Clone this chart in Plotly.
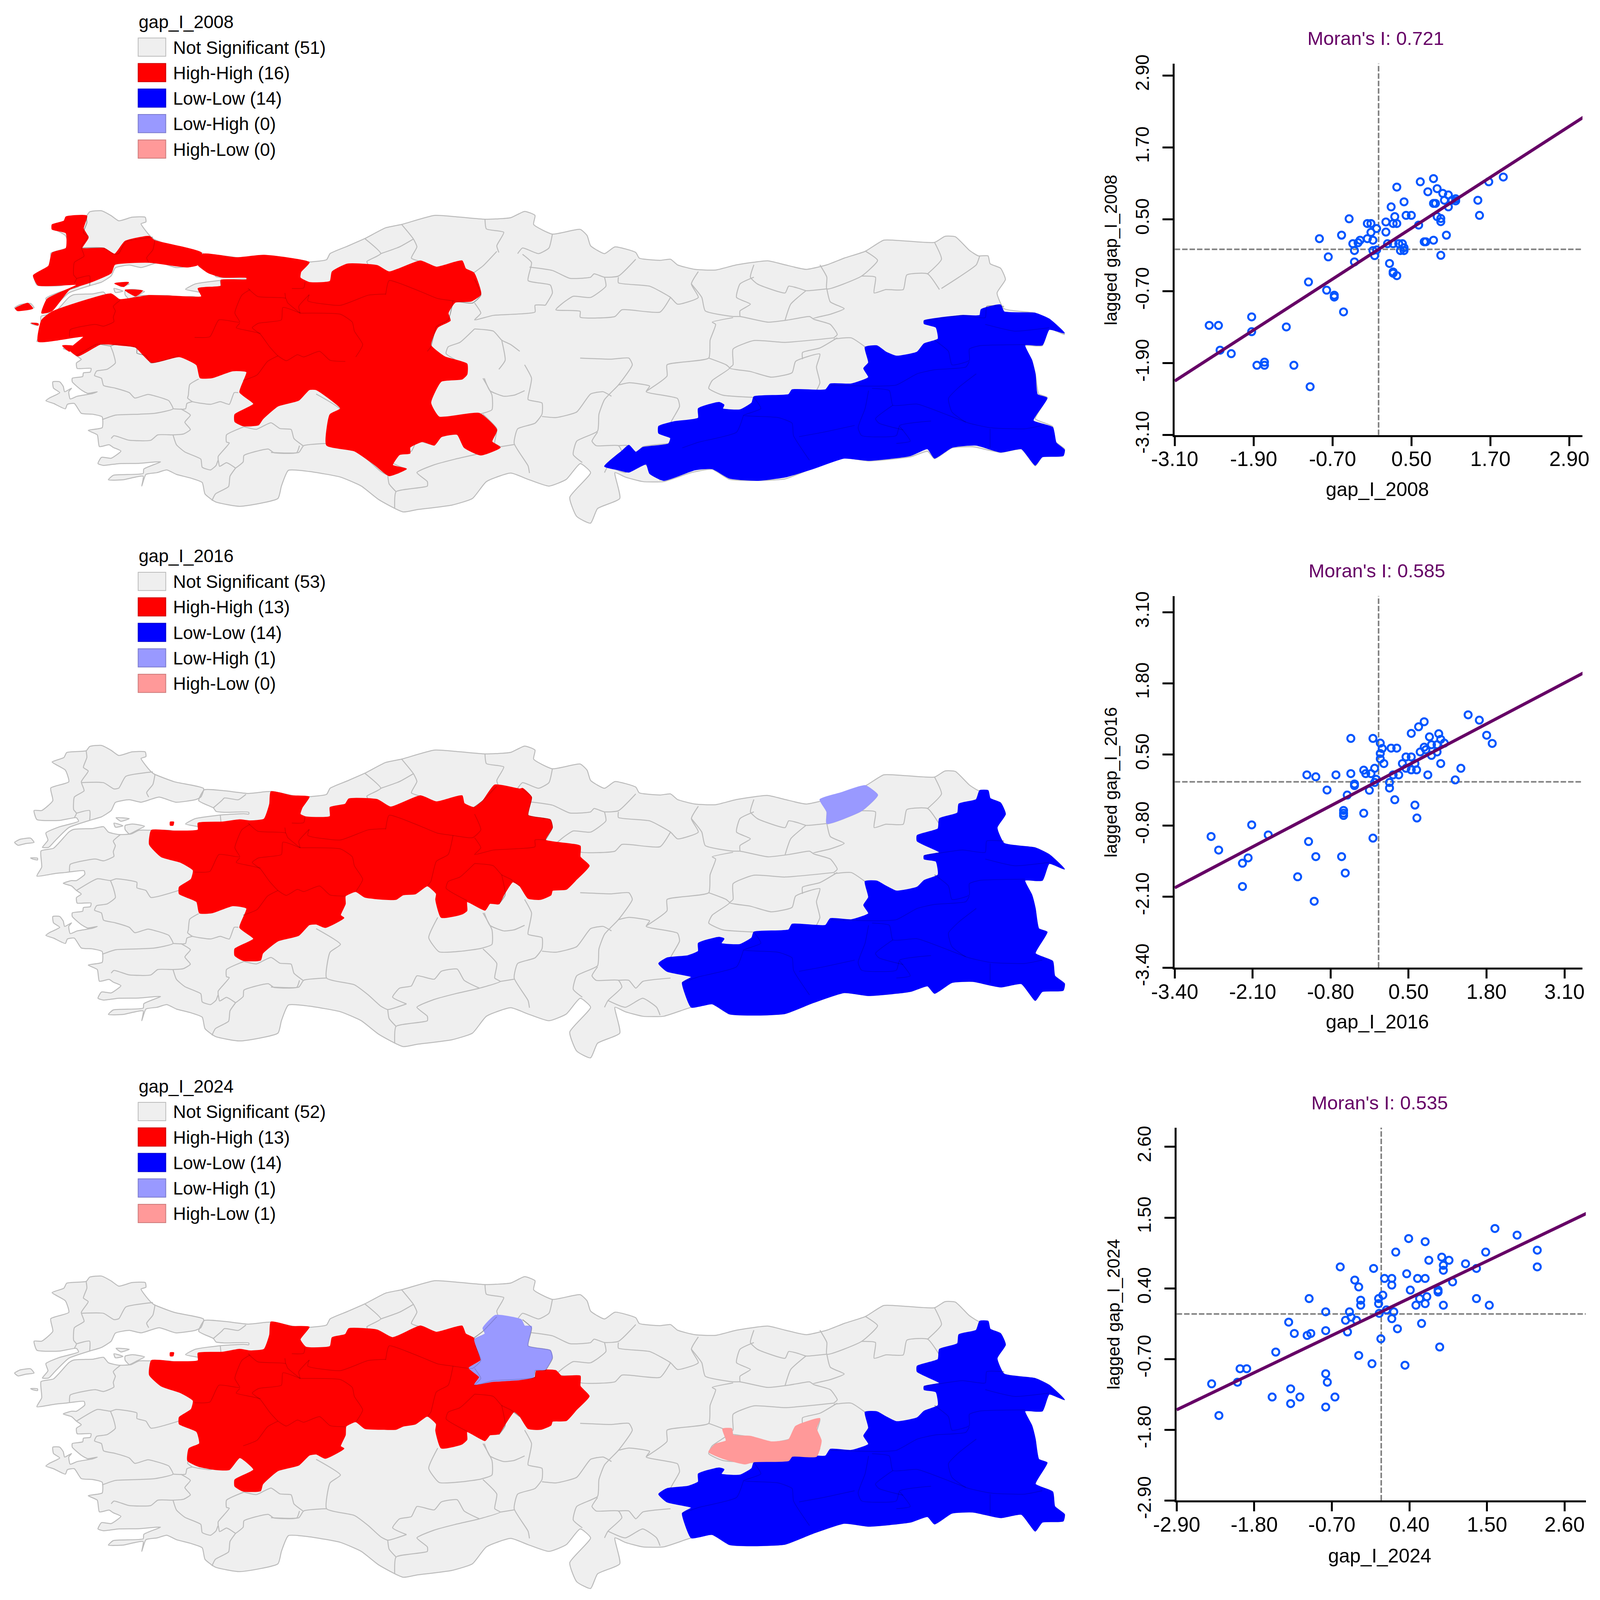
import plotly.graph_objects as go

# positions below are in reference pixels (4112x4543). The figure is left to autosize:
# a fixed 4112x4543 figure got clipped, the page measured 4096x4096 when probed.
W = 4096
H = 4527
PAGE_MARGIN = 8
FONT = "Liberation Sans"
# rotated text and vertical ticks run along the squeezed height of that page
V_SQUEEZE = 0.9

# colours of the five LISA classes
NS_FILL = "#EFEFEF"
NS_LINE = "#BBBBBB"
HH_FILL = "#FF0000"
LL_FILL = "#0000FF"
LH_FILL = "#9999FF"
HL_FILL = "#FF9999"
LEGEND_NAMES = ["Not Significant", "High-High", "Low-Low", "Low-High", "High-Low"]
LEGEND_FILLS = [NS_FILL, HH_FILL, LL_FILL, LH_FILL, HL_FILL]
LEGEND_LINES = ["#BBBBBB", "#CC0000", "#0000CC", "#7A7ACC", "#CC7A7A"]
COUNTS_2008 = [51, 16, 14, 0, 0]
COUNTS_2016 = [53, 13, 14, 1, 0]
COUNTS_2024 = [52, 13, 14, 1, 1]

# Moran scatter values
X_2008 = [-2.575, -2.435, -1.93, -1.93, -2.41, -2.24, -1.85, -1.735, -1.735, -1.403, -1.288, -1.041, -1.066, -.79, -.674, -.674, -.533, -.765, -.90, -.563, -.448, -.392, -.367, -.367, -.282, -.312, -.171, -.116, -.116, -.171, -.086, -.03, -.086, -.03, -.06, .111, .111, .191, .221, .277, .246, .277, .387, .418, .498, .136, .221, .166, .221, .221, .277, .362, .307, .387, .332, .387, .609, .694, .719, .835, .634, .835, .749, .89, .976, 1.061, .835, .865, 1.001, 1.061, .89, .946, .946, 1.031, .946, 1.117, 1.172, 1.172, 1.509, 1.534, 1.675, 1.896]
Y_2008 = [-1.269, -1.27, -1.127, -1.374, -1.683, -1.741, -1.935, -1.883, -1.935, -1.295, -1.935, -2.292, -.545, -.682, -.766, -.797, -1.044, -.126, .178, .236, .509, .094, -.021, -.21, .152, .11, .43, .43, .283, .178, .152, .346, -.021, -.01, -.105, .456, .288, .708, .43, .43, .545, 1.038, .792, .566, .566, .094, .094, -.236, -.378, -.399, -.44, .094, .094, .026, -.021, -.021, .404, .126, .126, .152, 1.127, 1.18, .96, 1.012, .933, .907, .766, .766, .818, .708, .545, .514, .461, .236, -.10, .818, .844, .808, .818, .566, 1.127, 1.206]
X_2016 = [-2.793, -2.667, -2.116, -1.84, -2.27, -2.176, -2.27, -1.35, -1.168, -1.074, -1.047, -.617, -.556, -.584, -.584, -.584, -.248, -.094, -.86, -1.047, -1.196, -.711, -.463, -.463, -.094, .028, .061, .028, .028, .088, -.066, -.248, -.215, -.127, -.402, -.402, -.523, -.154, -.066, -.039, .182, .182, .27, .209, .303, .336, .242, .397, .457, .545, .457, .545, .634, .606, .606, .639, .545, .667, .76, .694, .76, .788, .821, .848, .882, .882, .975, 1.003, 1.036, .975, 1.096, 1.036, 1.278, 1.372, 1.493, 1.68, 1.802, 1.895]
Y_2016 = [-1.001, -1.249, -.788, -.972, -1.49, -1.392, -1.916, -1.738, -1.093, -2.186, -1.369, -1.369, -1.669, -.524, -.575, -.616, -.575, -1.03, -.15, .092, .127, .127, .15, .794, .794, .708, .61, .518, .42, .334, .247, .213, .15, .15, -.04, -.069, -.242, -.155, -.012, .046, -.012, -.115, -.328, .616, .616, .127, .127, .334, .455, .455, .247, .219, .219, .334, -.426, -.662, .886, 1.007, 1.099, .547, .633, .587, .127, .823, .679, .483, .547, .88, .777, .679, .708, .334, .035, .247, 1.226, 1.128, .852, .702]
X_2024 = [-2.404, -2.301, -2.038, -2.001, -1.907, -1.546, -1.495, -1.312, -1.284, -1.284, -1.232, -1.153, -1.05, -.998, -1.022, -.787, -.787, -.787, -.764, -.656, -.787, -.581, -.45, -.506, -.426, -.351, -.478, -.375, -.319, -.291, -.291, -.319, -.131, -.108, -.037, -.037, -.028, -.005, .023, .047, .075, .15, .15, .178, .15, .206, .23, .337, .361, .389, .412, .492, .515, .544, .572, .623, .623, .623, .647, .675, .806, .806, .829, .858, .881, .881, .881, .961, 1.012, 1.195, 1.35, 1.35, 1.481, 1.532, 1.612, 1.926, 2.212, 2.212]
Y_2024 = [-1.086, -1.579, -1.061, -.851, -.851, -1.291, -.592, -.127, -1.164, -1.394, -.303, -1.291, -.333, -.303, .24, .034, -.259, -.929, -1.061, -1.291, -1.447, .733, .034, -.098, -.049, -.098, -.279, .528, .421, .215, .137, -.645, -.773, .709, .24, .161, .01, -.386, .293, .553, .064, .553, .45, .034, -.073, .963, -.23, -.797, .626, 1.174, .372, .137, .553, .24, -.147, .553, 1.125, .161, .269, .836, .372, .342, -.513, .885, .758, .68, .137, .836, .499, .782, .24, .709, .963, .137, 1.33, 1.227, .993, .733]

# fitted lines, end to end
LINE_X_2008 = [-3.10, 3.134]
LINE_Y_2008 = [-2.197, 2.218]
LINE_X_2016 = [-3.40, 3.43]
LINE_Y_2016 = [-1.94, 2.00]
LINE_X_2024 = [-2.90, 2.929]
LINE_Y_2024 = [-1.491, 1.575]

TICKS_2008 = [-3.10, -1.90, -0.70, 0.50, 1.70, 2.90]
TICKS_2016 = [-3.40, -2.10, -0.80, 0.50, 1.80, 3.10]
TICKS_2024 = [-2.90, -1.80, -0.70, 0.40, 1.50, 2.60]
MORAN = ["Moran's I: 0.721", "Moran's I: 0.585", "Moran's I: 0.535"]
VAR_NAMES = ["gap_I_2008", "gap_I_2016", "gap_I_2024"]


def nw(points):
    return [(round(x * 0.2857), round(78.4 + y * 0.8)) for x, y in points]


def from_crop(points, top):
    # 2008 and 2024 outlines were traced on their own crops
    ratio = {145: 1.05, 115: 0.992}[top]
    return [(x, round(103 + (y - top) * ratio)) for x, y in points]


# map outlines in map units (x to the right, y down)
THRACE = nw([(262, 125), (322, 100), (335, 72), (435, 62), (450, 38), (510, 32), (560, 60), (598, 88), (665, 68), (730, 68), (735, 95), (712, 105), (745, 160), (775, 190), (880, 235), (1025, 272), (1010, 320), (985, 335), (885, 348), (800, 320), (710, 348), (650, 335), (580, 350), (560, 395), (510, 430), (450, 450), (345, 490), (280, 560), (245, 600), (215, 600), (240, 560), (232, 520), (300, 485), (395, 455), (385, 435), (300, 450), (185, 445), (170, 395), (210, 395), (265, 340), (255, 270), (345, 235), (330, 170)])
COAST_NORTH_WEST = nw([(1030, 280), (1130, 285), (1250, 300), (1340, 290), (1370, 288), (1490, 315), (1545, 318)])
COAST_NORTH = [(470, 322), (475, 295), (500, 262), (525, 228), (555, 180), (578, 165), (625, 125), (660, 132), (698, 142), (735, 135), (755, 107), (770, 125), (768, 165), (795, 208), (835, 187), (845, 215), (850, 260), (870, 295), (885, 265), (915, 290), (920, 315), (950, 325), (965, 320), (975, 345), (1000, 365), (1030, 368), (1060, 345), (1105, 327), (1130, 345), (1160, 365), (1190, 345), (1215, 315), (1245, 285), (1272, 235), (1300, 238), (1345, 245), (1360, 218), (1375, 220), (1395, 280), (1408, 305)]
COAST_EAST_SOUTH = [(1422, 305), (1425, 340), (1440, 360), (1447, 410), (1435, 470), (1445, 540), (1490, 560), (1510, 590), (1532, 655), (1510, 630), (1500, 705), (1475, 705), (1485, 770), (1490, 830), (1495, 920), (1507, 935), (1490, 1030), (1515, 1065), (1518, 1130), (1532, 1165), (1530, 1195), (1500, 1200), (1490, 1240), (1482, 1210), (1470, 1165), (1440, 1180), (1400, 1155), (1370, 1160), (1345, 1208), (1335, 1175), (1310, 1200), (1250, 1218), (1215, 1205), (1170, 1250), (1130, 1298), (1090, 1305), (1050, 1300), (1025, 1255), (995, 1270), (955, 1310), (925, 1310), (900, 1290), (885, 1270), (892, 1385), (860, 1430), (850, 1495), (830, 1465), (820, 1380), (850, 1270), (835, 1230), (815, 1300), (790, 1330), (760, 1300), (735, 1272), (700, 1310), (680, 1385), (650, 1415), (600, 1435), (580, 1445), (545, 1390), (520, 1330), (490, 1290), (445, 1265), (415, 1260), (405, 1330), (400, 1385), (345, 1420), (310, 1400), (295, 1365)]
COAST_WEST = nw([(1020, 1545), (960, 1520), (890, 1500), (840, 1475), (790, 1490), (735, 1500), (715, 1565), (720, 1510), (620, 1530), (545, 1530), (570, 1505), (720, 1495), (725, 1470), (810, 1430), (700, 1438), (600, 1440), (520, 1450), (495, 1440), (510, 1405), (560, 1410), (610, 1370), (570, 1350), (550, 1335), (500, 1345), (490, 1280), (445, 1255), (515, 1240), (515, 1180), (465, 1165), (410, 1160), (375, 1105), (340, 1110), (330, 1135), (270, 1105), (230, 1090), (250, 1075), (300, 1045), (270, 1020), (265, 985), (300, 985), (320, 1010), (325, 1040), (360, 1020), (345, 1040), (355, 1080), (390, 1065), (465, 1050), (490, 1040), (440, 1048), (410, 1030), (365, 985), (365, 965), (415, 955), (420, 935), (455, 930), (460, 910), (390, 910), (385, 880), (410, 860), (385, 840), (360, 815), (320, 800), (360, 785), (385, 785), (428, 750), (425, 730), (330, 740), (280, 745), (185, 760), (210, 710), (207, 620), (270, 605), (345, 515), (370, 500), (470, 495), (520, 485), (545, 515), (600, 528), (660, 525), (700, 505), (770, 505), (850, 505), (900, 513), (970, 510), (1010, 515), (1030, 490), (1000, 485), (935, 470), (985, 440), (1110, 420), (1230, 412), (1252, 415), (1252, 405), (1130, 405), (1090, 400), (1075, 380), (1000, 340)])
GOKCEADA = nw([(75, 572), (100, 555), (155, 548), (170, 572), (130, 578), (90, 588)])
BOZCAADA = nw([(155, 658), (188, 660), (188, 670), (165, 665)])
MARMARA_ISLAND = nw([(585, 435), (650, 440), (610, 455)])
AVSA = nw([(575, 465), (620, 480), (580, 487)])
KAPIDAG = nw([(630, 478), (670, 470), (728, 482), (690, 505), (650, 525), (630, 500)])

# province borders, gray on the land
LINES_THRACE = [
    [(124, 128), (125, 158), (120, 202), (127, 218), (117, 266), (121, 306), (107, 334), (106, 390), (110, 406), (107, 426)],
    [(110, 406), (129, 394), (129, 438)],
    [(117, 270), (149, 270), (164, 298), (171, 294), (181, 242), (220, 222)],
    [(223, 234), (220, 278), (211, 314), (214, 334)],
    [(307, 382), (319, 350), (323, 338), (343, 346), (354, 322)],
    [(317, 414), (318, 446)],
]
LINES_MARMARA = [
    [(173, 502), (163, 530), (166, 550), (163, 578), (164, 598), (149, 618), (137, 610), (101, 634), (100, 666)],
    [(110, 750), (140, 698), (159, 706), (167, 698), (197, 714), (197, 738), (210, 750), (217, 781), (257, 750)],
]
LINES_CENTRAL_WEST = [
    [(360, 455), (348, 480), (338, 560), (345, 600), (315, 590), (302, 665), (280, 668)],
    [(345, 605), (340, 625), (360, 640), (375, 650)],
    [(357, 450), (371, 486), (411, 494), (414, 514), (432, 560)],
    [(445, 478), (443, 505), (490, 525), (530, 480), (555, 475)],
    [(445, 478), (430, 530), (432, 560)],
    [(432, 560), (490, 565), (507, 600), (510, 640), (522, 700), (512, 755)],
    [(432, 560), (407, 535), (405, 590), (372, 605), (363, 625), (375, 655), (388, 710), (400, 750), (412, 772), (428, 745), (437, 755), (460, 730), (475, 770), (497, 775)],
    [(400, 750), (385, 775), (370, 835), (350, 860)],
    [(555, 478), (560, 415), (590, 445), (610, 470), (630, 495), (652, 505), (680, 515), (692, 480), (683, 410)],
    [(652, 505), (645, 590), (628, 620), (620, 710), (615, 730)],
    [(410, 470), (411, 494)],
    [(420, 450), (437, 448), (439, 422)],
]
LINES_CENTRAL_EAST = [
    [(683, 515), (692, 560), (683, 590), (710, 570), (770, 555), (770, 525), (785, 525)],
    [(683, 630), (662, 690), (645, 710), (642, 740), (672, 795)],
    [(683, 630), (710, 640), (722, 680), (735, 700), (748, 730)],
    [(722, 680), (727, 770), (718, 810)],
    [(715, 285), (695, 350), (682, 380)],
    [(752, 298), (765, 335), (760, 415), (792, 435), (795, 470), (785, 525)],
]
LINES_SOUTHEAST = [
    [(1330, 595), (1385, 570), (1418, 580), (1420, 530), (1445, 530)],
    [(1418, 610), (1460, 640), (1510, 625)],
    [(1345, 680), (1365, 730), (1370, 790), (1395, 770), (1395, 720), (1410, 705), (1475, 700)],
    [(1395, 775), (1390, 800), (1345, 812), (1320, 830), (1290, 880), (1260, 885), (1195, 880)],
    [(1405, 830), (1380, 890), (1365, 940), (1370, 1000), (1390, 1045), (1425, 1070), (1475, 1075), (1500, 1060)],
    [(1425, 1075), (1425, 1160)],
    [(1255, 895), (1280, 905), (1285, 970), (1320, 965), (1365, 1015), (1390, 1045)],
    [(1250, 905), (1245, 985), (1235, 1070), (1240, 1105), (1290, 1105), (1295, 1060), (1340, 1040)],
    [(1295, 1065), (1310, 1130), (1290, 1140)],
    [(1150, 1110), (1185, 1090), (1230, 1060)],
    [(1085, 935), (1095, 985), (1070, 1015), (1120, 1025), (1140, 1050), (1142, 1105), (1165, 1215)],
    [(1070, 1015), (1060, 1090), (1005, 1135), (982, 1160)],
    [(1285, 970), (1260, 1030), (1265, 1050), (1300, 1080)],
]
LINES_REST = [
    [(698, 142), (700, 185), (725, 200), (715, 260), (718, 290)],
    [(795, 208), (790, 270), (775, 295), (752, 270), (745, 295)],
    [(578, 165), (595, 230), (600, 265), (592, 315), (605, 330)],
    [(525, 228), (548, 295), (528, 330), (530, 345)],
    [(548, 295), (575, 265), (595, 230)],
    [(762, 355), (795, 370), (820, 405), (850, 400), (855, 385), (870, 400), (890, 395), (915, 320)],
    [(890, 400), (890, 425), (935, 440), (965, 490), (975, 520), (1005, 490), (995, 430), (1005, 375)],
    [(870, 400), (872, 440), (850, 490), (825, 485), (810, 515), (800, 545), (835, 552), (835, 578), (885, 575), (895, 545), (950, 555), (965, 490)],
    [(1085, 345), (1080, 400), (1090, 430), (1130, 470), (1135, 440), (1150, 450), (1160, 460), (1190, 452)],
    [(1085, 400), (1065, 430), (1060, 490), (1080, 520), (1065, 550), (1065, 575)],
    [(995, 430), (1010, 490), (1015, 550), (1055, 575), (1065, 575), (1105, 600), (1135, 590), (1165, 575), (1170, 585)],
    [(1160, 460), (1138, 520), (1130, 590)],
    [(1190, 452), (1195, 510), (1215, 540), (1195, 565), (1170, 585), (1195, 610), (1205, 655), (1200, 670)],
    [(1180, 345), (1190, 400), (1190, 452), (1240, 395), (1263, 325), (1245, 283)],
    [(1240, 395), (1260, 400), (1258, 470), (1275, 455), (1300, 455), (1305, 390), (1335, 385), (1352, 455)],
    [(1345, 245), (1355, 320), (1335, 385)],
    [(1410, 305), (1405, 345), (1380, 400), (1355, 450)],
    [(1055, 580), (1025, 600), (1030, 610), (1022, 680), (1020, 760), (960, 790), (960, 840), (930, 908)],
    [(1200, 670), (1130, 690), (1085, 682), (1055, 720), (1055, 790), (1050, 805), (1080, 820), (1110, 845), (1140, 825), (1145, 775), (1180, 742), (1175, 800), (1180, 870), (1175, 905)],
    [(1200, 675), (1225, 670), (1245, 710)],
    [(1205, 670), (1180, 715), (1155, 735), (1155, 765)],
    [(1020, 760), (1045, 790), (1050, 805), (1025, 860), (1020, 895), (1040, 925), (1085, 935)],
    [(835, 760), (880, 765), (905, 760), (910, 790), (890, 880), (870, 945), (862, 1010), (860, 1085), (830, 1130), (825, 1190), (838, 1225)],
    [(890, 880), (905, 870), (935, 885), (930, 910), (975, 940), (978, 975), (965, 1050), (965, 1100)],
    [(860, 1090), (852, 1130), (858, 1150), (890, 1150), (895, 1180), (875, 1240), (870, 1270)],
    [(890, 1150), (905, 1150), (915, 1185), (925, 1155), (965, 1140)],
    [(875, 1240), (900, 1270), (925, 1230), (945, 1270), (950, 1305)],
    [(755, 790), (765, 850), (762, 905), (760, 945), (780, 960), (780, 1010), (770, 1050), (745, 1075), (740, 1140), (760, 1240), (762, 1272)],
    [(780, 1020), (800, 1025), (830, 1000), (850, 920), (868, 910), (880, 930)],
    [(697, 850), (705, 905), (725, 930), (740, 925), (755, 905)],
    [(630, 870), (617, 960), (632, 1023), (665, 1020), (692, 1008), (708, 990), (708, 925), (695, 850)],
    [(695, 1010), (715, 1075), (712, 1140), (720, 1155), (690, 1185), (655, 1210), (625, 1235), (600, 1270), (615, 1310), (615, 1330), (570, 1355), (568, 1430)],
    [(720, 1155), (740, 1145)],
    [(585, 1255), (565, 1225), (575, 1185), (592, 1175), (600, 1130), (625, 1145), (635, 1110), (658, 1100), (668, 1150), (690, 1185)],
    [(455, 920), (490, 990), (475, 1025), (470, 1140), (510, 1170), (530, 1215), (548, 1265), (558, 1280), (585, 1255)],
    [(558, 1280), (560, 1320), (570, 1355)],
    [(390, 1180), (430, 1180), (437, 1150), (470, 1140)],
    [(351, 1066), (326, 1102), (326, 1134), (330, 1138), (314, 1198), (314, 1214)],
    [(351, 1066), (369, 1077), (390, 1048), (403, 1074), (419, 1078), (423, 1118), (436, 1150)],
    [(339, 1250), (350, 1222), (351, 1194), (386, 1165), (394, 1181), (427, 1181), (431, 1150)],
    [(339, 1250), (331, 1286), (329, 1332), (310, 1365), (305, 1395)],
    [(249, 1102), (254, 1146), (266, 1178), (289, 1210), (291, 1246), (303, 1258), (311, 1238), (314, 1214), (316, 1242), (326, 1226), (339, 1250)],
    [(286, 853), (273, 878), (271, 926), (270, 938), (277, 954), (303, 966), (317, 954), (330, 966), (337, 914), (343, 914)],
    [(277, 954), (269, 962), (267, 986), (249, 986)],
    [(260, 986), (274, 1014), (266, 1046), (274, 1078), (264, 1098), (249, 1102), (227, 1102), (217, 1126), (186, 1126), (164, 1106), (160, 1118)],
    [(159, 706), (163, 738), (166, 782), (154, 810), (139, 818), (136, 838), (146, 850), (149, 882), (166, 894), (186, 914), (194, 938), (213, 922), (237, 942), (243, 950), (249, 986), (223, 1006), (200, 1010), (166, 1014), (147, 1034)],
]

# cluster shapes of each year
RED_2008_THRACE = from_crop([(95, 172), (125, 168), (120, 220), (127, 260), (118, 305), (150, 305), (165, 330), (180, 275), (215, 255), (222, 272), (290, 325), (285, 375), (270, 385), (215, 365), (165, 375), (160, 410), (130, 450), (100, 480), (75, 570), (60, 580), (68, 520), (110, 460), (55, 462), (48, 420), (70, 380), (75, 325), (95, 305), (95, 240), (75, 225), (75, 205), (92, 190)], 145)
RED_2008_ANATOLIA = from_crop([(292, 330), (340, 345), (380, 335), (445, 365), (433, 405), (432, 430), (445, 450), (475, 445), (478, 405), (500, 372), (543, 378), (560, 405), (605, 358), (628, 385), (665, 358), (670, 392), (682, 410), (692, 500), (678, 530), (655, 535), (645, 580), (648, 612), (630, 640), (620, 715), (640, 765), (672, 795), (672, 840), (665, 860), (635, 870), (620, 960), (632, 1020), (690, 1005), (715, 1075), (708, 1125), (720, 1150), (692, 1182), (668, 1150), (658, 1095), (635, 1105), (625, 1140), (608, 1125), (590, 1150), (590, 1175), (575, 1180), (565, 1225), (585, 1240), (560, 1270), (540, 1225), (510, 1165), (470, 1140), (475, 1010), (490, 985), (455, 905), (445, 905), (430, 950), (400, 975), (378, 1030), (372, 1055), (350, 1058), (338, 1040), (338, 1010), (365, 965), (345, 915), (355, 830), (335, 825), (305, 855), (288, 855), (283, 800), (258, 765), (218, 790), (195, 725), (170, 715), (145, 712), (112, 762), (100, 735), (120, 680), (55, 700), (60, 610), (75, 575), (160, 498), (172, 522), (215, 505), (250, 508), (290, 510), (285, 475), (318, 465), (318, 440), (355, 438), (355, 430), (320, 428), (300, 410), (285, 375)], 145)
RED_2008_ISLES = [from_crop(p, 145) for p in [[(22, 560), (40, 538), (47, 560), (25, 570)], [(45, 622), (55, 625), (55, 632)], [(165, 455), (185, 450), (178, 468)], [(180, 482), (205, 485), (195, 508)], [(90, 718), (105, 720), (100, 742)]]]
RED_2016 = [(390, 310), (420, 328), (445, 333), (435, 380), (432, 410), (440, 422), (475, 420), (475, 380), (497, 365), (502, 342), (543, 345), (562, 378), (605, 328), (628, 355), (665, 328), (668, 362), (682, 380), (695, 350), (712, 280), (748, 298), (752, 295), (765, 335), (760, 415), (792, 435), (795, 470), (785, 525), (835, 552), (835, 600), (848, 640), (830, 700), (815, 745), (795, 750), (793, 770), (778, 790), (760, 785), (748, 730), (738, 712), (725, 770), (718, 810), (705, 808), (698, 838), (672, 800), (672, 840), (665, 855), (635, 870), (627, 790), (628, 765), (615, 730), (598, 765), (580, 770), (570, 790), (553, 790), (525, 780), (512, 755), (497, 775), (497, 810), (490, 860), (495, 872), (468, 915), (455, 900), (445, 903), (430, 950), (400, 975), (378, 1030), (375, 1060), (350, 1062), (338, 1040), (338, 1010), (365, 965), (345, 915), (355, 830), (335, 818), (305, 850), (287, 850), (283, 800), (258, 765), (258, 735), (275, 700), (278, 660), (260, 625), (232, 600), (215, 545), (218, 482), (250, 485), (285, 480), (285, 450), (320, 445), (345, 435), (360, 440), (380, 432), (388, 365)]
RED_ISLET = [(245, 445), (250, 445), (249, 460), (245, 460)]
RED_2024 = from_crop([(390, 322), (420, 342), (445, 345), (432, 400), (440, 435), (475, 432), (478, 392), (497, 378), (502, 352), (543, 358), (565, 392), (605, 340), (628, 368), (665, 340), (670, 375), (682, 395), (692, 490), (678, 520), (690, 570), (683, 603), (708, 590), (745, 583), (770, 570), (772, 540), (800, 540), (808, 565), (835, 565), (835, 610), (848, 655), (830, 715), (815, 765), (795, 768), (793, 785), (778, 805), (760, 800), (748, 745), (740, 725), (725, 790), (718, 825), (705, 830), (698, 855), (672, 815), (672, 850), (665, 870), (635, 888), (627, 810), (628, 780), (615, 745), (598, 780), (580, 790), (570, 805), (553, 805), (525, 800), (512, 770), (498, 790), (497, 830), (490, 880), (495, 890), (468, 935), (455, 915), (445, 920), (430, 965), (400, 990), (378, 1050), (375, 1080), (350, 1082), (338, 1060), (338, 1030), (365, 985), (345, 932), (330, 985), (310, 985), (285, 970), (270, 945), (272, 890), (287, 868), (283, 815), (258, 780), (258, 750), (275, 715), (278, 675), (260, 640), (232, 610), (215, 560), (218, 495), (250, 500), (285, 495), (285, 462), (320, 458), (345, 445), (360, 452), (380, 445), (388, 380)], 115)
BLUE_2008 = from_crop([(1412, 565), (1440, 545), (1445, 575), (1490, 580), (1510, 605), (1532, 665), (1510, 650), (1500, 715), (1475, 715), (1485, 780), (1490, 840), (1493, 925), (1507, 940), (1487, 1035), (1515, 1065), (1520, 1130), (1532, 1160), (1530, 1185), (1500, 1190), (1490, 1225), (1480, 1190), (1470, 1155), (1440, 1170), (1405, 1140), (1370, 1150), (1345, 1195), (1335, 1155), (1310, 1185), (1250, 1205), (1215, 1195), (1170, 1240), (1130, 1275), (1090, 1290), (1050, 1280), (1025, 1240), (1000, 1245), (955, 1290), (935, 1260), (930, 1220), (905, 1255), (890, 1245), (870, 1230), (895, 1165), (905, 1140), (915, 1170), (925, 1150), (962, 1135), (965, 1110), (948, 1090), (948, 1060), (970, 1040), (1005, 1025), (1005, 985), (1035, 958), (1042, 970), (1040, 985), (1065, 990), (1082, 960), (1085, 935), (1135, 925), (1140, 905), (1188, 905), (1195, 880), (1225, 880), (1250, 852), (1243, 815), (1250, 790), (1245, 725), (1262, 718), (1275, 745), (1290, 762), (1320, 745), (1330, 710), (1350, 690), (1347, 640), (1330, 625), (1330, 612), (1352, 600), (1385, 590), (1410, 590)], 145)
BLUE_2016 = [(1422, 305), (1425, 340), (1440, 360), (1447, 410), (1435, 470), (1445, 540), (1490, 560), (1510, 590), (1532, 655), (1510, 630), (1500, 705), (1475, 705), (1485, 770), (1490, 830), (1495, 920), (1507, 935), (1490, 1030), (1515, 1065), (1518, 1130), (1532, 1165), (1530, 1195), (1500, 1200), (1490, 1240), (1482, 1210), (1470, 1165), (1440, 1180), (1400, 1155), (1370, 1160), (1345, 1208), (1335, 1175), (1310, 1200), (1250, 1218), (1215, 1205), (1170, 1250), (1130, 1298), (1090, 1305), (1050, 1300), (1025, 1255), (995, 1270), (985, 1200), (982, 1160), (995, 1135), (960, 1110), (948, 1075), (960, 1050), (990, 1040), (1005, 1020), (1005, 985), (1035, 958), (1042, 965), (1038, 985), (1065, 990), (1082, 960), (1085, 935), (1135, 925), (1140, 900), (1188, 905), (1195, 875), (1225, 880), (1250, 852), (1243, 815), (1250, 780), (1245, 710), (1262, 708), (1275, 730), (1290, 752), (1320, 735), (1330, 705), (1350, 680), (1347, 620), (1330, 610), (1330, 595), (1352, 580), (1320, 530), (1320, 505), (1350, 475), (1352, 430), (1378, 405), (1380, 365), (1405, 345), (1410, 305)]
LILAC_2016 = [(1245, 283), (1263, 325), (1240, 395), (1190, 452), (1190, 400), (1180, 345), (1210, 315)]
LILAC_2024 = from_crop([(713, 292), (750, 312), (755, 340), (765, 342), (760, 430), (792, 450), (795, 480), (785, 535), (770, 540), (768, 570), (745, 583), (708, 590), (683, 603), (690, 570), (675, 528), (692, 495), (683, 400), (698, 375), (695, 350)], 115)
PINK_2024 = from_crop([(1040, 802), (1053, 800), (1055, 830), (1080, 835), (1110, 860), (1135, 850), (1145, 790), (1180, 755), (1175, 800), (1182, 855), (1175, 925), (1140, 925), (1135, 945), (1085, 950), (1072, 960), (1040, 935), (1020, 905), (1030, 870), (1045, 855)], 115)

ASIA = COAST_NORTH_WEST + COAST_NORTH + COAST_EAST_SOUTH + COAST_WEST
LAND = [THRACE, ASIA, GOKCEADA, BOZCAADA, MARMARA_ISLAND, AVSA, KAPIDAG]
GRAY_LINES = LINES_THRACE + LINES_MARMARA + LINES_CENTRAL_WEST + LINES_CENTRAL_EAST + LINES_SOUTHEAST + LINES_REST

# which shapes fill which class in each year
CLUSTERS_2008 = [(HH_FILL, [RED_2008_THRACE, RED_2008_ANATOLIA] + RED_2008_ISLES), (LL_FILL, [BLUE_2008])]
CLUSTERS_2016 = [(HH_FILL, [RED_2016, RED_ISLET]), (LL_FILL, [BLUE_2016]), (LH_FILL, [LILAC_2016])]
CLUSTERS_2024 = [(HH_FILL, [RED_2024, RED_ISLET]), (LL_FILL, [BLUE_2016]), (LH_FILL, [LILAC_2024]), (HL_FILL, [PINK_2024])]
INNER_2008 = LINES_THRACE[:4] + LINES_MARMARA + LINES_CENTRAL_WEST + LINES_SOUTHEAST
INNER_2016 = LINES_CENTRAL_WEST + LINES_CENTRAL_EAST + LINES_SOUTHEAST


def xy(shapes):
    xs, ys = [], []
    for shape in shapes:
        for x, y in shape:
            xs.append(x)
            ys.append(y)
        xs.append(None)
        ys.append(None)
    return xs, ys


def closed(shapes):
    return [list(s) + [s[0]] for s in shapes]


def paper_x(px):
    return (px - PAGE_MARGIN) / W


def paper_y(px):
    return 1 - (px - PAGE_MARGIN) / H


def dom_x(a, b):
    return [paper_x(a), paper_x(b)]


def dom_y(top, bottom):
    return [paper_y(bottom), paper_y(top)]


def border(colour, width):
    # real borders wander, a light spline reads closer than straight segments
    return dict(color=colour, width=width, shape="spline", smoothing=0.5)


fig = go.Figure()
map_tops = [531.3, 2050, 3557.3]
map_clusters = [CLUSTERS_2008, CLUSTERS_2016, CLUSTERS_2024]
map_inner = [INNER_2008, INNER_2016, INNER_2016]
layout = {}

for i in range(3):
    ax = "x%d" % (i + 1)
    ay = "y%d" % (i + 1)
    xs, ys = xy(closed(LAND))
    fig.add_trace(go.Scatter(x=xs, y=ys, xaxis=ax, yaxis=ay, mode="lines", fill="toself", fillcolor=NS_FILL,
                             line=border(NS_LINE, 2.5), hoverinfo="skip", showlegend=False))
    xs, ys = xy(GRAY_LINES)
    fig.add_trace(go.Scatter(x=xs, y=ys, xaxis=ax, yaxis=ay, mode="lines",
                             line=border(NS_LINE, 2.5), hoverinfo="skip", showlegend=False))
    for colour, shapes in map_clusters[i]:
        xs, ys = xy(closed(shapes))
        fig.add_trace(go.Scatter(x=xs, y=ys, xaxis=ax, yaxis=ay, mode="lines", fill="toself", fillcolor=colour,
                                 line=border(colour, 2), hoverinfo="skip", showlegend=False))
    xs, ys = xy(map_inner[i])
    fig.add_trace(go.Scatter(x=xs, y=ys, xaxis=ax, yaxis=ay, mode="lines",
                             line=border("rgba(0,0,0,0.16)", 2), hoverinfo="skip", showlegend=False))
    layout["xaxis" + str(i + 1)] = dict(domain=dom_x(8, 2800), range=[8 / 1.786, 1568], visible=False, anchor=ay, automargin=False)
    layout["yaxis" + str(i + 1)] = dict(domain=dom_y(map_tops[i], map_tops[i] + 1510 * 0.638), range=[1510, 0], visible=False, anchor=ax, automargin=False)

# Moran scatter panels
scatter_x = [X_2008, X_2016, X_2024]
scatter_y = [Y_2008, Y_2016, Y_2024]
line_x = [LINE_X_2008, LINE_X_2016, LINE_X_2024]
line_y = [LINE_Y_2008, LINE_Y_2016, LINE_Y_2024]
ticks = [TICKS_2008, TICKS_2016, TICKS_2024]
limits = [3.1, 3.4, 2.9]
plot_boxes = [(3019, 4067, 179.5, 1235), (3019, 4067, 1692, 2747.6), (3024, 4075.5, 3202, 4261)]
title_pos = [(3536, 108), (3539, 1620), (3546, 3131)]
xlabel_pos = [(3540, 1389), (3540, 2902), (3546, 4418)]
ylabel_pos = [(2855, 709), (2855, 2221), (2861, 3732)]
annotations = []

for i in range(3):
    n = i + 4
    ax = "x%d" % n
    ay = "y%d" % n
    lim = limits[i]
    dash = dict(color="#808080", width=4, dash="14px,5px")
    fig.add_trace(go.Scatter(x=[-lim, lim], y=[0, 0], xaxis=ax, yaxis=ay, mode="lines", line=dash, showlegend=False))
    fig.add_trace(go.Scatter(x=[0, 0], y=[-lim, lim], xaxis=ax, yaxis=ay, mode="lines", line=dash, showlegend=False))
    fig.add_trace(go.Scatter(x=scatter_x[i], y=scatter_y[i], xaxis=ax, yaxis=ay, mode="markers",
                             marker=dict(symbol="circle-open", size=18, color="#0055FF", line=dict(color="#0055FF", width=5)),
                             showlegend=False))
    fig.add_trace(go.Scatter(x=line_x[i], y=line_y[i], xaxis=ax, yaxis=ay, mode="lines", cliponaxis=False,
                             line=dict(color="#660066", width=8), showlegend=False))
    x0, x1, top, bottom = plot_boxes[i]
    labels = ["%.2f" % t for t in ticks[i]]
    common = dict(range=[-lim, lim], tickvals=ticks[i], ticktext=labels, showgrid=False, zeroline=False, showline=True,
                  linecolor="black", linewidth=5, ticks="outside", tickwidth=5, tickcolor="black", automargin=False)
    layout["xaxis%d" % n] = dict(domain=dom_x(x0, x1), anchor=ay, tickangle=0, ticklen=round(26 * V_SQUEEZE), ticklabelstandoff=-12,
                                 tickfont=dict(family=FONT, size=53, color="black"), **common)
    layout["yaxis%d" % n] = dict(domain=dom_y(top, bottom), anchor=ax, tickangle=-90, ticklen=26, ticklabelstandoff=16,
                                 tickfont=dict(family=FONT, size=round(53 * V_SQUEEZE), color="black"), **common)
    annotations.append(dict(text=MORAN[i], x=paper_x(title_pos[i][0]), y=paper_y(title_pos[i][1]), xref="paper", yref="paper",
                            showarrow=False, xanchor="center", yanchor="middle", font=dict(family=FONT, size=49, color="#660066")))
    annotations.append(dict(text=VAR_NAMES[i], x=paper_x(xlabel_pos[i][0]), y=paper_y(xlabel_pos[i][1]), xref="paper", yref="paper",
                            showarrow=False, xanchor="center", yanchor="middle", font=dict(family=FONT, size=50, color="black")))
    annotations.append(dict(text="lagged " + VAR_NAMES[i], x=paper_x(ylabel_pos[i][0]), y=paper_y(ylabel_pos[i][1]), xref="paper", yref="paper",
                            showarrow=False, xanchor="center", yanchor="middle", textangle=-90,
                            font=dict(family=FONT, size=round(50 * V_SQUEEZE), color="black")))

# legends, drawn at the map's top left
legend_counts = [COUNTS_2008, COUNTS_2016, COUNTS_2024]
legend_shift = [0, 1517.5, 3023.4]
shapes = []
for i in range(3):
    dy = legend_shift[i]
    annotations.append(dict(text=VAR_NAMES[i], x=paper_x(354), y=paper_y(61 + dy), xref="paper", yref="paper", showarrow=False,
                            xanchor="left", yanchor="middle", font=dict(family=FONT, size=46, color="black")))
    for j in range(5):
        mid = 133 + 72.4 * j + dy
        shapes.append(dict(type="rect", xref="paper", yref="paper", x0=paper_x(355), x1=paper_x(426), y0=paper_y(mid - 26), y1=paper_y(mid + 26),
                           fillcolor=LEGEND_FILLS[j], line=dict(color=LEGEND_LINES[j], width=2)))
        annotations.append(dict(text="%s (%d)" % (LEGEND_NAMES[j], legend_counts[i][j]), x=paper_x(443), y=paper_y(mid + 1),
                                xref="paper", yref="paper", showarrow=False, xanchor="left", yanchor="middle",
                                font=dict(family=FONT, size=46, color="black")))

fig.update_layout(margin=dict(l=0, r=0, t=0, b=0), paper_bgcolor="white", plot_bgcolor="white",
                  showlegend=False, annotations=annotations, shapes=shapes, **layout)
fig.write_html("out.html")
